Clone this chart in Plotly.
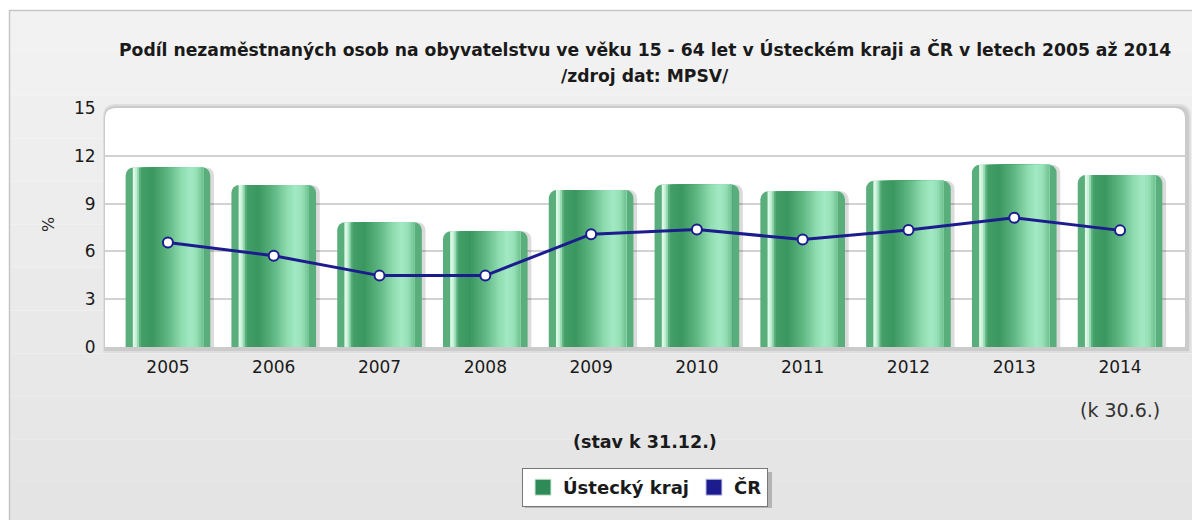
import plotly.graph_objects as go

# ---------------- data ----------------
years = ["2005", "2006", "2007", "2008", "2009", "2010", "2011", "2012", "2013", "2014"]
ustecky_kraj = [11.27, 10.17, 7.83, 7.27, 9.85, 10.20, 9.77, 10.44, 11.44, 10.79]
cr = [6.56, 5.73, 4.48, 4.48, 7.08, 7.38, 6.74, 7.34, 8.11, 7.32]
y_ticks = [0, 3, 6, 9, 12, 15]

title_line1 = "Podíl nezaměstnaných osob na obyvatelstvu ve věku 15 - 64 let v Ústeckém kraji a ČR v letech 2005 až 2014"
title_line2 = "/zdroj dat: MPSV/"
x_title = "(stav k 31.12.)"
last_note = "(k 30.6.)"
names = ["Ústecký kraj", "ČR"]

# ---------------- layout geometry ----------------
# page body has an 8px margin, so the figure is drawn 8px smaller
OFF = 8
W, H = 1200 - OFF, 520 - OFF
PL, PR, PT, PB = 105, 1185, 108, 347   # plot area in window pixels
pw = PR - PL
ph = PB - PT
L = PL - OFF
T = PT - OFF
R = W - L - pw
B = H - T - ph


def px(xp):
    return (xp - PL) / pw


def py(yp):
    return (PB - yp) / ph


FONT = "DejaVu Sans"
GREEN_LEG = "#2e8b57"
NAVY = "#1c1c8e"
BAR_W = 0.8

# gradient stops across a bar (fraction of width, colour)
stops = [
    (0.00, (0x50, 0xa8, 0x72)),
    (0.06, (0x86, 0xd4, 0xa4)),
    (0.10, (0xe6, 0xfc, 0xee)),
    (0.135, (0xb0, 0xea, 0xc8)),
    (0.18, (0x44, 0x9f, 0x68)),
    (0.32, (0x3b, 0x97, 0x60)),
    (0.50, (0x5f, 0xb7, 0x82)),
    (0.66, (0x8f, 0xdc, 0xb0)),
    (0.76, (0xa2, 0xe9, 0xc3)),
    (0.84, (0x96, 0xe0, 0xb7)),
    (0.92, (0x6c, 0xbf, 0x8c)),
    (1.00, (0x4a, 0x9a, 0x6a)),
]


def grad(f):
    for (f0, c0), (f1, c1) in zip(stops[:-1], stops[1:]):
        if f0 <= f <= f1:
            t = (f - f0) / (f1 - f0) if f1 > f0 else 0
            c = [round(a + (b - a) * t) for a, b in zip(c0, c1)]
            return "rgb(%d,%d,%d)" % tuple(c)
    return "rgb(%d,%d,%d)" % stops[-1][1]


fig = go.Figure()

# bar shadow
fig.add_trace(go.Bar(
    x=years, y=ustecky_kraj, width=BAR_W, offset=-BAR_W / 2 + 0.035,
    marker=dict(color="rgba(0,0,0,0.14)", line=dict(width=0), cornerradius=8),
    showlegend=False, hoverinfo="skip"))

# main bars
fig.add_trace(go.Bar(
    x=years, y=ustecky_kraj, width=BAR_W, offset=-BAR_W / 2, name=names[0],
    marker=dict(color="#5aae7b", line=dict(width=0), cornerradius=8),
    showlegend=False))

# cylinder-like shading: each layer runs from its start to the same right end,
# so the layers overlap and leave no seams
f_start, f_end, n = 0.085, 0.915, 34
sw = (f_end - f_start) / n
for i in range(n):
    fc = f_start + (i + 0.5) * sw
    s = f_start + i * sw
    fig.add_trace(go.Bar(
        x=years, y=ustecky_kraj, width=(f_end - s) * BAR_W,
        offset=-BAR_W / 2 + s * BAR_W,
        marker=dict(color=grad(fc), line=dict(width=0)),
        showlegend=False, hoverinfo="skip"))

# line
fig.add_trace(go.Scatter(
    x=years, y=cr, mode="lines+markers", name=names[1],
    line=dict(color=NAVY, width=3),
    marker=dict(size=10, color="white", line=dict(color=NAVY, width=2)),
    showlegend=False))

# legend entries (square swatches)
fig.add_trace(go.Scatter(x=[None], y=[None], mode="markers", name=names[0],
                         marker=dict(symbol="square", size=16, color=GREEN_LEG,
                                     line=dict(width=1, color="#cfe9da"))))
fig.add_trace(go.Scatter(x=[None], y=[None], mode="markers", name=names[1],
                         marker=dict(symbol="square", size=16, color=NAVY,
                                     line=dict(width=1, color="#c8c8e8"))))

shapes = []
# panel background (banded vertical gradient)
nb = 12
top_px, bot_px = 10, 525
for i in range(nb):
    y0 = top_px + (bot_px - top_px) * i / nb
    y1 = top_px + (bot_px - top_px) * (i + 1) / nb
    g = round(0xf2 - (0xf2 - 0xe4) * i / (nb - 1))
    shapes.append(dict(type="rect", xref="paper", yref="paper", x0=px(9), x1=px(1210),
                       y0=py(y1), y1=py(y0), fillcolor="rgb(%d,%d,%d)" % (g, g, g),
                       line=dict(width=0), layer="below"))
shapes.append(dict(type="rect", xref="paper", yref="paper", x0=px(9.5), x1=px(1210),
                   y0=py(530), y1=py(10.5), fillcolor="rgba(0,0,0,0)",
                   line=dict(color="#c6c6c6", width=1.5), layer="below"))


def rrect(x0p, x1p, y0p, y1p, r):
    x0, x1, y0, y1 = px(x0p), px(x1p), py(y0p), py(y1p)
    rx, ry = r / pw, r / ph
    return (f"M {x0},{y0} L {x0},{y1 - ry} Q {x0},{y1} {x0 + rx},{y1} "
            f"L {x1 - rx},{y1} Q {x1},{y1} {x1},{y1 - ry} L {x1},{y0} Z")


# plot-area shadow and white rounded panel
shapes.append(dict(type="path", xref="paper", yref="paper", path=rrect(103, 1191, 353, 104, 13),
                   fillcolor="#dedede", line=dict(width=0), layer="below"))
shapes.append(dict(type="path", xref="paper", yref="paper", path=rrect(104, 1189, 351, 106, 12),
                   fillcolor="#cbcbcb", line=dict(width=0), layer="below"))
shapes.append(dict(type="path", xref="paper", yref="paper", path=rrect(105, 1185, 347, 108, 11),
                   fillcolor="#ffffff", line=dict(width=0), layer="below"))

# legend drop shadow
shapes.append(dict(type="rect", xref="paper", yref="paper", x0=px(525), x1=px(772),
                   y0=py(508), y1=py(472), fillcolor="#b4b4b4", line=dict(width=0),
                   layer="below"))

annotations = [
    dict(text=title_line1, xref="paper", yref="paper", x=px(645), y=py(50),
         xanchor="center", yanchor="middle", showarrow=False,
         font=dict(family=FONT, size=17.2, color="#1a1a1a", weight="bold")),
    dict(text=title_line2, xref="paper", yref="paper", x=px(645), y=py(76),
         xanchor="center", yanchor="middle", showarrow=False,
         font=dict(family=FONT, size=17.2, color="#1a1a1a", weight="bold")),
    dict(text="%", xref="paper", yref="paper", x=px(48), y=py(225), textangle=-90,
         xanchor="center", yanchor="middle", showarrow=False,
         font=dict(family=FONT, size=16, color="#222")),
    dict(text=x_title, xref="paper", yref="paper", x=px(645), y=py(442),
         xanchor="center", yanchor="middle", showarrow=False,
         font=dict(family=FONT, size=17.5, color="#1a1a1a", weight="bold")),
    dict(text=last_note, xref="paper", yref="paper", x=px(1120), y=py(410),
         xanchor="center", yanchor="middle", showarrow=False,
         font=dict(family=FONT, size=19, color="#333")),
]

fig.update_layout(
    width=W, height=H,
    margin=dict(l=L, r=R, t=T, b=B, pad=0),
    paper_bgcolor="white",
    plot_bgcolor="rgba(0,0,0,0)",
    barmode="overlay",
    shapes=shapes,
    annotations=annotations,
    showlegend=True,
    legend=dict(orientation="h", x=px(645), xanchor="center", y=py(468), yanchor="top",
                bgcolor="white", bordercolor="#777", borderwidth=1,
                font=dict(family=FONT, size=18, color="#1a1a1a", weight="bold"),
                itemsizing="trace", itemwidth=30, traceorder="normal"),
    font=dict(family=FONT),
)

fig.update_xaxes(type="category", range=[-0.595, 9.614], showgrid=False, zeroline=False,
                 showline=False, ticks="outside", ticklen=5, tickcolor="rgba(0,0,0,0)",
                 tickfont=dict(family=FONT, size=17, color="#1a1a1a"), fixedrange=True)
fig.update_yaxes(range=[0, 15], tickvals=y_ticks, showgrid=True, gridcolor="#d2d2d2",
                 gridwidth=2, zeroline=False, showline=False, ticks="outside", ticklen=5,
                 tickcolor="rgba(0,0,0,0)",
                 tickfont=dict(family=FONT, size=17, color="#1a1a1a"), fixedrange=True)

fig.write_html("out.html")
